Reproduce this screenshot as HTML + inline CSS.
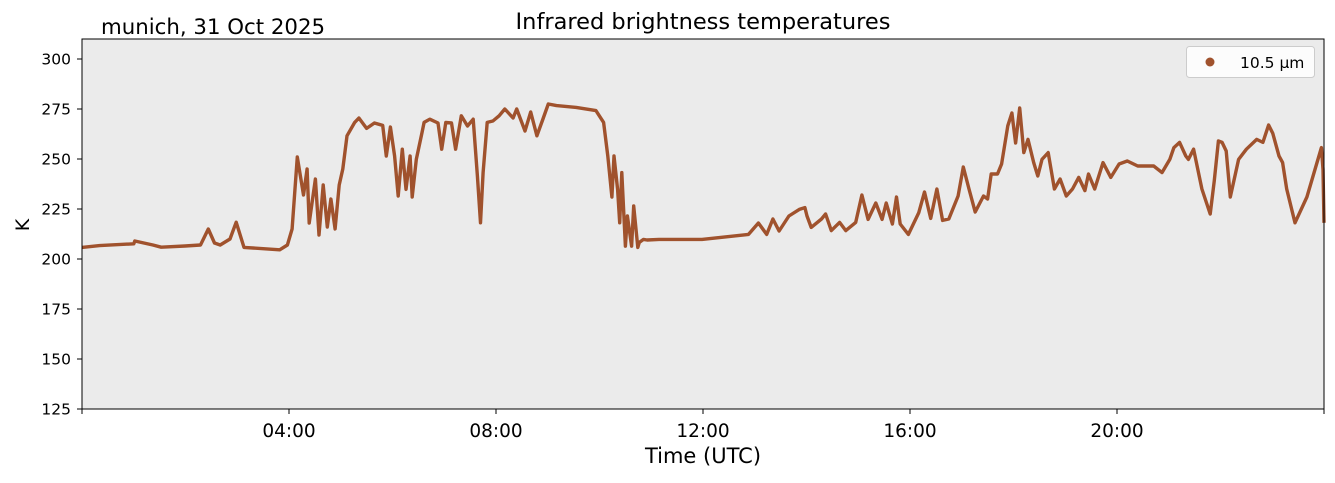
<!DOCTYPE html>
<html><head><meta charset="utf-8"><style>
body{margin:0;background:#fff;}
svg text{font-family:"DejaVu Sans","Liberation Sans",sans-serif;}
</style></head><body>
<svg id="chart" width="1335" height="478" xmlns="http://www.w3.org/2000/svg">
<rect x="82" y="39" width="1242" height="370" fill="#ebebeb"/>
<g id="yticks"></g>
<g id="xticks"></g>
<polyline id="series" fill="none" stroke="#a0522d" stroke-width="3.4" stroke-linejoin="round"/>
<rect x="82" y="39" width="1242" height="370" fill="none" stroke="#000" stroke-width="1"/>
<text x="703" y="29" font-size="22.5" text-anchor="middle">Infrared brightness temperatures</text>
<text x="101" y="34" font-size="21.3">munich, 31 Oct 2025</text>
<text x="29" y="225" font-size="19" text-anchor="middle" transform="rotate(-90 29 225)">K</text>
<text x="703" y="463" font-size="21" text-anchor="middle">Time (UTC)</text>
<g>
<rect x="1186.5" y="46.5" width="128" height="31" rx="3" fill="#fff" fill-opacity="0.85" stroke="#ccc"/>
<circle cx="1210" cy="62" r="4.5" fill="#a0522d"/>
<text x="1240" y="68" font-size="15.5">10.5 µm</text>
</g>
</svg>
<script>
const yTicks=[125,150,175,200,225,250,275,300];
const xTickHours=[4,8,12,16,20];
const xTickLabels=["04:00","08:00","12:00","16:00","20:00"];
const hours=[0,0.34,1.0,1.02,1.37,1.53,1.99,2.29,2.44,2.56,2.67,2.86,2.98,3.13,3.82,3.97,4.06,4.16,4.28,4.35,4.39,4.51,4.58,4.66,4.74,4.81,4.89,4.97,5.04,5.12,5.27,5.35,5.5,5.65,5.81,5.88,5.96,6.04,6.11,6.19,6.26,6.34,6.38,6.46,6.57,6.61,6.72,6.88,6.95,7.03,7.14,7.22,7.33,7.45,7.56,7.64,7.7,7.75,7.83,7.94,8.06,8.17,8.33,8.4,8.56,8.67,8.79,8.9,9.01,9.17,9.55,9.93,10.08,10.16,10.24,10.28,10.35,10.39,10.43,10.5,10.54,10.62,10.66,10.74,10.77,10.85,10.92,11.15,11.98,12.88,13.07,13.23,13.35,13.47,13.66,13.86,13.97,14.01,14.09,14.29,14.37,14.48,14.64,14.76,14.95,15.07,15.19,15.34,15.46,15.54,15.66,15.74,15.81,15.97,16.17,16.28,16.4,16.52,16.63,16.75,16.93,17.03,17.14,17.26,17.42,17.5,17.57,17.69,17.77,17.89,17.97,18.04,18.12,18.2,18.28,18.39,18.47,18.55,18.67,18.79,18.9,19.02,19.14,19.26,19.38,19.45,19.57,19.73,19.88,20.04,20.2,20.4,20.71,20.87,21.02,21.1,21.21,21.33,21.38,21.48,21.64,21.8,21.88,21.96,22.03,22.11,22.19,22.35,22.5,22.7,22.82,22.93,23.01,23.13,23.2,23.28,23.44,23.67,23.95,23.98,24.0];
const temps=[205.8,206.7,207.6,209,207,205.9,206.5,207,215,208,207,210,218.4,205.8,204.6,207,215,251,232,245,218,240,212,237,216,230,215,237,245,261.6,268.3,270.5,265.3,268,266.8,251.5,266,251.5,231.5,254.9,234.8,251.5,231,249.8,263.2,268.3,269.9,268,254.9,268.3,268,254.9,271.6,266.5,269.9,241.5,218.1,243.2,268.3,269,271.6,275,270.5,275,264,273.5,261.6,269.5,277.5,276.7,275.8,274.2,268.3,251.5,231,251.5,234.8,218.1,243.2,206.4,221.5,206.4,226.5,205.8,208.3,209.8,209.5,209.8,209.8,212.3,218,212.3,220,214,221.5,224.8,225.7,221.5,215.8,220,222.5,214.2,218.3,214.2,218.3,232,219.8,228,219.8,228,217.5,231,217.5,212.3,223.2,233.5,220.3,235,219.3,220,231.5,246,235,223.5,231.5,230,242.5,242.5,247.5,266.6,273,258,275.5,253.2,259.8,248.2,241.5,249.8,253.2,235,240,231.5,235,240.8,234.2,242.5,235,248.2,240.8,247.5,249,246.5,246.5,243.2,249.8,255.7,258.3,251.5,249.8,254.9,235,222.5,239.2,259,258.3,254,231,249.8,254.9,259.8,258.3,267,262.8,251.5,248.2,235,218.1,231,255.7,244.8,218.1,213,213.8,229.5,248.2];
const X0=82,X1=1324,Y0=409,Y1=39,KMIN=125,KMAX=310;
const sx=h=>X0+(h/24)*(X1-X0);
const sy=k=>Y0-(k-KMIN)/(KMAX-KMIN)*(Y0-Y1);
const NS="http://www.w3.org/2000/svg";
const yg=document.getElementById('yticks');
yTicks.forEach(t=>{
  const l=document.createElementNS(NS,'line');
  l.setAttribute('x1',X0-5);l.setAttribute('x2',X0);l.setAttribute('y1',sy(t));l.setAttribute('y2',sy(t));l.setAttribute('stroke','#000');
  
  
  yg.appendChild(l);
  const tx=document.createElementNS(NS,'text');
  tx.setAttribute('x',X0-11);tx.setAttribute('y',sy(t)+5.5);tx.setAttribute('font-size','15.5');tx.setAttribute('text-anchor','end');
  tx.textContent=t;
  
  
  yg.appendChild(tx);
});
const xg=document.getElementById('xticks');
xTickHours.forEach((h,i)=>{
  const l=document.createElementNS(NS,'line');
  l.setAttribute('x1',sx(h));l.setAttribute('x2',sx(h));l.setAttribute('y1',Y0);l.setAttribute('y2',Y0+5);l.setAttribute('stroke','#000');
  
  
  xg.appendChild(l);
  const tx=document.createElementNS(NS,'text');
  tx.setAttribute('x',sx(h));tx.setAttribute('y',Y0+28);tx.setAttribute('font-size','18.5');tx.setAttribute('text-anchor','middle');
  tx.textContent=xTickLabels[i];
  
  
  xg.appendChild(tx);
});
[0,24].forEach(h=>{
  const l=document.createElementNS(NS,'line');
  l.setAttribute('x1',sx(h));l.setAttribute('x2',sx(h));l.setAttribute('y1',Y0);l.setAttribute('y2',Y0+5);l.setAttribute('stroke','#000');
  
  
  xg.appendChild(l);
});
document.getElementById('series').setAttribute('points',hours.map((h,i)=>sx(h).toFixed(1)+','+sy(temps[i]).toFixed(1)).join(' '));
</script>
</body></html>
